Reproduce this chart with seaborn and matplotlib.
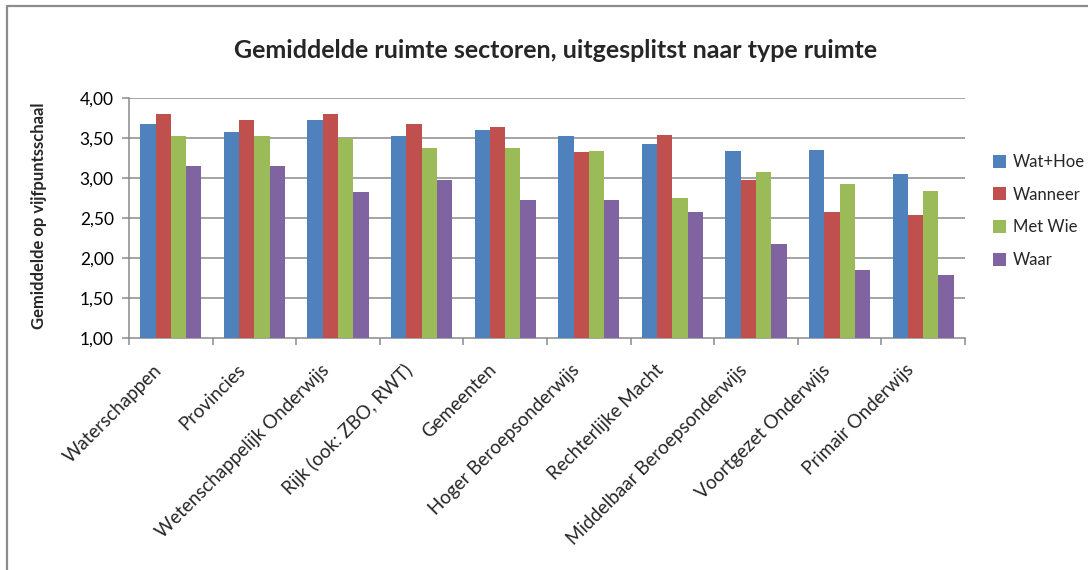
import matplotlib
matplotlib.use("Agg")
import matplotlib.pyplot as plt
import matplotlib.transforms as mtransforms
from matplotlib.lines import Line2D
from matplotlib.patches import Patch
import seaborn as sns
import pandas as pd

sectors = [
    "Waterschappen", "Provincies", "Wetenschappelijk Onderwijs",
    "Rijk (ook: ZBO, RWT)", "Gemeenten", "Hoger Beroepsonderwijs",
    "Rechterlijke Macht", "Middelbaar Beroepsonderwijs",
    "Voortgezet Onderwijs", "Primair Onderwijs",
]
series_names = ["Wat+Hoe", "Wanneer", "Met Wie", "Waar"]
wat_hoe = [3.67, 3.58, 3.73, 3.53, 3.60, 3.53, 3.42, 3.34, 3.35, 3.05]
wanneer = [3.80, 3.73, 3.80, 3.67, 3.64, 3.33, 3.54, 2.97, 2.57, 2.54]
met_wie = [3.53, 3.53, 3.50, 3.38, 3.38, 3.34, 2.75, 3.07, 2.92, 2.84]
waar = [3.15, 3.15, 2.82, 2.98, 2.73, 2.72, 2.57, 2.18, 1.85, 1.79]
colors = ["#4F81BD", "#C0504D", "#9BBB59", "#8064A2"]
y_ticks = [1.0, 1.5, 2.0, 2.5, 3.0, 3.5, 4.0]

values = [wat_hoe, wanneer, met_wie, waar]
df = pd.DataFrame({
    "sector": [s for _ in series_names for s in sectors],
    "type": [n for n in series_names for _ in sectors],
    "score": [v for vals in values for v in vals],
})

sns.set_theme(style="white")
plt.rcParams["font.family"] = ["Lato", "DejaVu Sans"]

W, H = 1088, 570
fig = plt.figure(figsize=(W / 100, H / 100), dpi=100)
ax = fig.add_axes([129 / W, 1 - 338 / H, (965 - 129) / W, (338 - 98) / H])

sns.barplot(data=df, x="sector", y="score", hue="type", order=sectors,
            hue_order=series_names, palette=colors, width=0.73,
            saturation=1, linewidth=0, legend=False, ax=ax, zorder=3)

grid_c = "#8a8a8a"
ax.set_ylim(1, 4)
ax.set_xlim(-0.5, len(sectors) - 0.5)
ax.set_yticks(y_ticks)
ax.set_yticklabels([f"{v:.2f}".replace(".", ",") for v in y_ticks], fontsize=12.5)
for v in y_ticks[1:]:
    ax.axhline(v, color=grid_c, lw=1.1, zorder=1)

for side in ["top", "right"]:
    ax.spines[side].set_visible(False)
for side in ["left", "bottom"]:
    ax.spines[side].set_color(grid_c)
    ax.spines[side].set_linewidth(1.1)

ax.tick_params(axis="y", direction="out", length=5, color=grid_c, width=1.1,
               pad=6, labelcolor="black", left=True)
ax.set_xticks([i - 0.5 for i in range(len(sectors) + 1)], minor=True)
ax.tick_params(axis="x", which="minor", direction="out", length=5,
               color=grid_c, width=1.1, bottom=True)
ax.tick_params(axis="x", which="major", length=0, pad=21)
ax.set_xticks(range(len(sectors)))
ax.set_xticklabels(sectors, rotation=45, ha="right", va="center",
                   rotation_mode="anchor", fontsize=13.5)
shift = mtransforms.ScaledTranslation(-0.12, 0, fig.dpi_scale_trans)
for lab in ax.get_xticklabels():
    lab.set_transform(lab.get_transform() + shift)

ax.set_xlabel("")
ax.set_ylabel("Gemiddelde op vijfpuntsschaal", fontsize=12,
              fontweight="bold")
ax.yaxis.set_label_coords(-0.098, 0.51)

fig.text(556 / W, 1 - 51 / H,
         "Gemiddelde ruimte sectoren, uitgesplitst naar type ruimte",
         ha="center", va="center", fontsize=18, fontweight="bold")

handles = [Patch(facecolor=c, edgecolor="none") for c in colors]
fig.legend(handles, series_names, loc="center left",
           bbox_to_anchor=(986 / W, 1 - 211 / H), frameon=False,
           fontsize=12, handlelength=0.8, handleheight=0.8,
           handletextpad=0.4, labelspacing=1.0, borderaxespad=0)

border = dict(color="#8c8c8c", lw=1.6, transform=fig.transFigure)
fig.add_artist(Line2D([7 / W, 7 / W], [0, 1 - 6 / H], **border))
fig.add_artist(Line2D([7 / W, 1], [1 - 6 / H, 1 - 6 / H], **border))

fig.savefig("out.png", dpi=100, facecolor="white")
